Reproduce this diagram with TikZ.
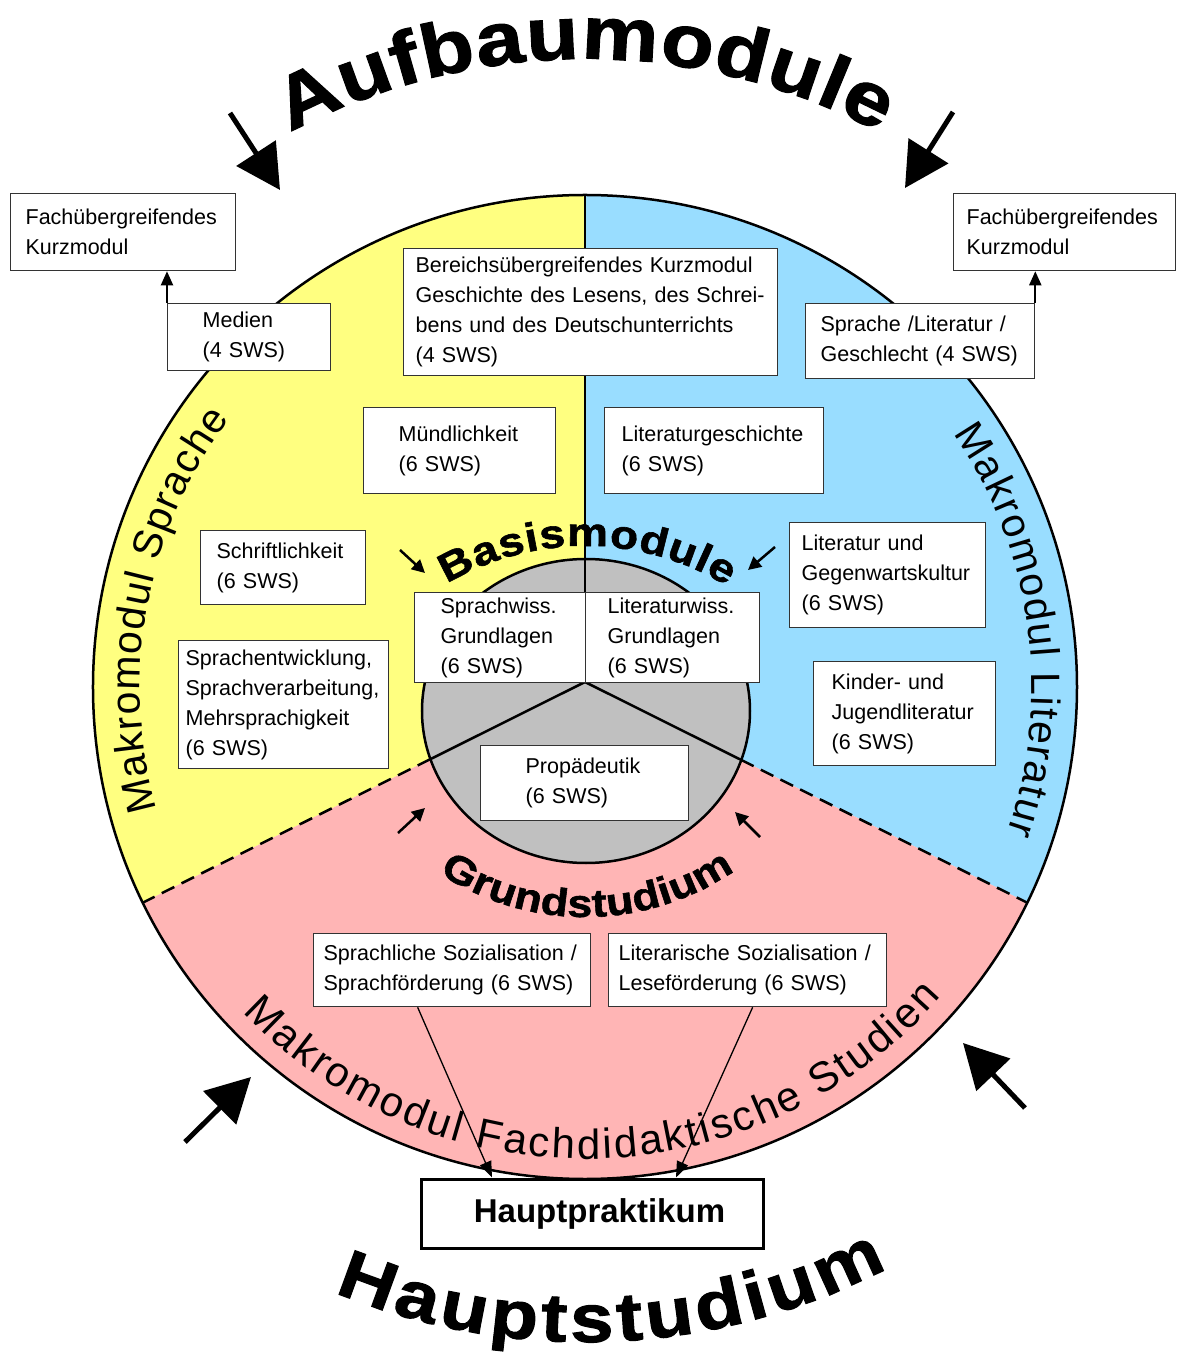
\documentclass[tikz,border=0pt]{standalone}
\usepackage{fontspec}
\setmainfont{Liberation Sans}
\newfontfamily\wordart{Liberation Sans Bold}[FakeStretch=1.15,FakeBold=1.5]
\usepackage{tikz}
\usetikzlibrary{arrows.meta,calc,decorations.text}
\definecolor{sprachgelb}{RGB}{255,255,128}
\definecolor{literaturblau}{RGB}{153,221,255}
\definecolor{didaktikrosa}{RGB}{255,181,181}
\definecolor{basisgrau}{RGB}{192,192,192}
\tikzset{
  modul/.style={draw=black!80, line width=1.3pt, fill=white, anchor=north west,
    align=left, inner ysep=0pt, font=\fontsize{21.5}{30}\selectfont},
  bogentext/.style={decorate, decoration={text along path, text align={fit to path}, text={#1}}},
  grosspfeil/.style={line width=5pt, -{Triangle[length=44pt,width=46pt]}},
  kleinpfeil/.style={line width=2.5pt, -{Triangle[length=13pt,width=13pt]}},
  zupfeil/.style={line width=1.3pt, -{Triangle[length=16pt,width=12pt]}},
  trenner/.style={line width=2.5pt, dash pattern=on 14pt off 8pt}
}

\begin{document}
\begin{tikzpicture}[x=1pt,y=1pt]
    \useasboundingbox (-585,-670) rectangle (593,687); % page size
    \coordinate (mitte) at (0,5); % meeting point
    \coordinate (links) at (206:492pt);
    \coordinate (rechts) at (-26:492pt);
    \fill[sprachgelb] (mitte) -- (90:492pt) arc[start angle=90, end angle=206, radius=492pt] -- cycle; % Sprache
    \fill[literaturblau] (mitte) -- (90:492pt) arc[start angle=90, end angle=-26, radius=492pt] -- cycle; % Literatur
    \fill[didaktikrosa] (mitte) -- (links) arc[start angle=206, end angle=334, radius=492pt] -- cycle; % Fachdidaktik
    \coordinate (links-grau) at ($(mitte)!0.35!(links)$);
    \coordinate (rechts-grau) at ($(mitte)!0.353!(rechts)$);
    \draw[trenner] (links-grau) -- (links); % dashed border
    \draw[trenner] (rechts-grau) -- (rechts); % dashed border
    \draw[line width=2.5pt] (0,0) circle[radius=492pt]; % outer circle
    \draw[line width=2.5pt, fill=basisgrau] (1,-24) ellipse[x radius=164pt, y radius=152pt]; % Basis
    \draw[line width=2.5pt] (0,492) -- (mitte); % divider
    \draw[line width=2.5pt] (links-grau) -- (mitte) -- (rechts-grau); % inner lines

    \node[modul, text width=195pt, inner xsep=15pt, minimum height=77pt] (fkl) at (-575,494) {Fachübergreifendes\\Kurzmodul};
    \node[modul, text width=196pt, inner xsep=13pt, minimum height=77pt] (fkr) at (368,494) {Fachübergreifendes\\Kurzmodul};
    \node[modul, text width=350pt, inner xsep=12pt, minimum height=127pt] (bereich) at (-182,439) {Bereichsübergreifendes Kurzmodul\\Geschichte des Lesens, des Schrei-\\bens und des Deutschunterrichts\\(4 SWS)};
    \node[modul, text width=93pt, inner xsep=35pt, minimum height=67pt] (medien) at (-418,384) {Medien\\(4 SWS)};
    \node[modul, text width=199pt, inner xsep=15pt, minimum height=75pt] (geschlecht) at (220,384) {Sprache /Literatur /\\Geschlecht (4 SWS)};
    \node[modul, text width=122pt, inner xsep=35pt, minimum height=86pt] (muendlich) at (-222,280) {Mündlichkeit\\(6 SWS)};
    \node[modul, text width=185pt, inner xsep=17pt, minimum height=86pt] (litgesch) at (19,280) {Literaturgeschichte\\(6 SWS)};
    \node[modul, text width=133pt, inner xsep=16pt, minimum height=74pt] (schrift) at (-385,157) {Schriftlichkeit\\(6 SWS)};
    \node[modul, text width=172pt, inner xsep=12pt, minimum height=105pt] (gegenwart) at (204,165) {Literatur und\\Gegenwartskultur\\(6 SWS)};
    \node[modul, text width=119pt, inner xsep=26pt, minimum height=90pt] (sprachwiss) at (-171,95) {Sprachwiss.\\Grundlagen\\(6 SWS)};
    \node[modul, text width=130pt, inner xsep=22pt, minimum height=90pt] (litwiss) at (0,95) {Literaturwiss.\\Grundlagen\\(6 SWS)};
    \node[modul, text width=196pt, inner xsep=7pt, minimum height=128pt] (entwicklung) at (-407,47) {Sprachentwicklung,\\Sprachverarbeitung,\\Mehrsprachigkeit\\(6 SWS)};
    \node[modul, text width=146pt, inner xsep=18pt, minimum height=104pt] (kjl) at (228,26) {Kinder- und\\Jugendliteratur\\(6 SWS)};
    \node[modul, text width=118pt, inner xsep=45pt, minimum height=75pt] (propaed) at (-105,-58) {Propädeutik\\(6 SWS)};
    \node[modul, text width=257pt, inner xsep=10pt, minimum height=73pt] (sprsoz) at (-272,-246) {Sprachliche Sozialisation /\\Sprachförderung (6 SWS)};
    \node[modul, text width=258pt, inner xsep=10pt, minimum height=73pt] (litsoz) at (23,-246) {Literarische Sozialisation /\\Leseförderung (6 SWS)};

    % curved labels
    \path[bogentext={|\wordart\fontsize{75}{75}\selectfont|Aufbaumodule}] (118:628pt) arc[start angle=118, end angle=62, radius=628pt];
    \path[bogentext={|\wordart\fontsize{68}{68}\selectfont|Hauptstudium}] (247.5:655pt) arc[start angle=247.5, end angle=297.5, radius=655pt];
    \path[bogentext={|\wordart\fontsize{40}{40}\selectfont|Basismodule}] ($(0,-131)+(120.5:272pt)$) arc[start angle=120.5, end angle=58.5, radius=272pt];
    \path[bogentext={|\wordart\fontsize{39}{39}\selectfont|Grundstudium}] ($(0,34)+(236.5:264pt)$) arc[start angle=236.5, end angle=304.5, radius=264pt];
    \path[bogentext={|\fontsize{41}{41}\selectfont|Makromodul Sprache}] (196:445pt) arc[start angle=196, end angle=143, radius=445pt];
    \path[bogentext={|\fontsize{41}{41}\selectfont|Makromodul Literatur}] (34.5:447pt) arc[start angle=34.5, end angle=-19, radius=447pt];
    \path[bogentext={|\fontsize{42}{42}\selectfont|Makromodul Fachdidaktische Studien}] (223.5:472pt) arc[start angle=223.5, end angle=319, radius=472pt];

    \node[draw, line width=3pt, fill=white, minimum width=341pt, minimum height=69pt, inner sep=0pt,
      font=\bfseries\fontsize{33}{33}\selectfont] (hp) at (7.5,-526.5) {\hspace*{14pt}Hauptpraktikum};

    \draw[line width=2pt, -{Triangle[length=14pt,width=12pt]}] (medien.north west) -- (medien.north west |- fkl.south); % to Kurzmodul
    \draw[line width=2pt, -{Triangle[length=14pt,width=12pt]}] (geschlecht.north east) -- (geschlecht.north east |- fkr.south); % to Kurzmodul
    \draw[zupfeil] ([xshift=-34.5pt]sprsoz.south) -- ([xshift=-100.5pt]hp.north); % to Hauptpraktikum
    \draw[zupfeil] ([xshift=5pt]litsoz.south) -- ([xshift=83.5pt]hp.north); % to Hauptpraktikum

    \coordinate (ol-a) at (-355,574); \coordinate (ol-b) at (-305,497);
    \coordinate (or-a) at (368,575); \coordinate (or-b) at (320,499);
    \coordinate (ul-a) at (-400,-455); \coordinate (ul-b) at (-334,-390);
    \coordinate (ur-a) at (440,-421); \coordinate (ur-b) at (378,-356);
    \draw[grosspfeil] (ol-a) -- (ol-b); % Aufbau left
    \draw[grosspfeil] (or-a) -- (or-b); % Aufbau right
    \draw[grosspfeil] (ul-a) -- (ul-b); % Haupt left
    \draw[grosspfeil] (ur-a) -- (ur-b); % Haupt right

    \coordinate (bl-a) at (-185,137); \coordinate (bl-b) at (-160,114);
    \coordinate (br-a) at (190,140); \coordinate (br-b) at (163,117);
    \coordinate (gl-a) at (-187,-146); \coordinate (gl-b) at (-160,-121);
    \coordinate (gr-a) at (175,-150); \coordinate (gr-b) at (150,-125);
    \draw[kleinpfeil] (bl-a) -- (bl-b); % Basis left
    \draw[kleinpfeil] (br-a) -- (br-b); % Basis right
    \draw[kleinpfeil] (gl-a) -- (gl-b); % Grund left
    \draw[kleinpfeil] (gr-a) -- (gr-b); % Grund right
\end{tikzpicture}
\end{document}
